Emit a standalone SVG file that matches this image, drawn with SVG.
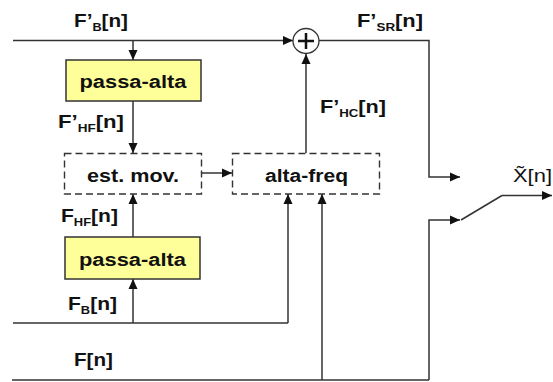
<svg xmlns="http://www.w3.org/2000/svg" width="553" height="382" viewBox="0 0 553 382">
<style>
.ln{fill:none;stroke:#333;stroke-width:1.5}
.ar{marker-end:url(#ah)}
.box{fill:#FFFF99;stroke:#333;stroke-width:1.5}
.dash{fill:#fff;stroke:#333;stroke-width:1.4;stroke-dasharray:7 4}
.t{font-family:"Liberation Sans",Arial,sans-serif;font-weight:bold;font-size:18px;fill:#111}
.c{text-anchor:middle}
.s{font-size:11px}
.r{font-weight:normal}
</style>
<defs>
<marker id="ah" markerUnits="userSpaceOnUse" markerWidth="10" markerHeight="10" viewBox="0 0 10 10" refX="10" refY="5" orient="auto">
<path d="M0,0.5 L10,5 L0,9.5 Z" fill="#111"/>
</marker>
</defs>
<rect width="553" height="382" fill="#fff"/>
<g id="connectors">
<path class="ln ar" d="M13,40.5 H293"/>
<path class="ln ar" d="M133,40.5 V60"/>
<path class="ln ar" d="M133,101 V153"/>
<path class="ln ar" d="M201,173 H232"/>
<path class="ln ar" d="M306,153 V54"/>
<path class="ln ar" d="M319,40.5 H429 V177 H460"/>
<path class="ln" d="M13,323 H288"/>
<path class="ln ar" d="M288,323 V194"/>
<path class="ln ar" d="M133,323 V279"/>
<path class="ln ar" d="M133,237 V194"/>
<path class="ln" d="M12,380 H429"/>
<path class="ln ar" d="M322,380 V194"/>
<path class="ln ar" d="M429,380 V220 H460"/>
<text class="t" x="74" y="27" textLength="54" lengthAdjust="spacingAndGlyphs">F’<tspan class="s" dy="4">B</tspan><tspan dy="-4">[n]</tspan></text>
<text class="t" x="58" y="128" textLength="66" lengthAdjust="spacingAndGlyphs">F’<tspan class="s" dy="4">HF</tspan><tspan dy="-4">[n]</tspan></text>
<text class="t" x="61" y="222" textLength="57" lengthAdjust="spacingAndGlyphs">F<tspan class="s" dy="4">HF</tspan><tspan dy="-4">[n]</tspan></text>
<text class="t" x="68" y="310" textLength="49" lengthAdjust="spacingAndGlyphs">F<tspan class="s" dy="4">B</tspan><tspan dy="-4">[n]</tspan></text>
<text class="t" x="74" y="366" textLength="39" lengthAdjust="spacingAndGlyphs">F[n]</text>
<text class="t" x="320" y="113" textLength="66" lengthAdjust="spacingAndGlyphs">F’<tspan class="s" dy="4">HC</tspan><tspan dy="-4">[n]</tspan></text>
<text class="t" x="357" y="27" textLength="66" lengthAdjust="spacingAndGlyphs">F’<tspan class="s" dy="4">SR</tspan><tspan dy="-4">[n]</tspan></text>
<text class="t r" x="513" y="182" textLength="39" lengthAdjust="spacingAndGlyphs">X̃[n]</text>
</g>
<g id="hp1">
<rect class="box" x="66" y="60" width="135" height="41"/>
<text class="t c" x="133" y="88" textLength="107" lengthAdjust="spacingAndGlyphs">passa-alta</text>
</g>
<g id="estmov">
<rect class="dash" x="64.5" y="153.5" width="137" height="40.5"/>
<text class="t c" x="133" y="182" textLength="92" lengthAdjust="spacingAndGlyphs">est. mov.</text>
</g>
<g id="altafreq">
<rect class="dash" x="232.5" y="153.5" width="147" height="40.5"/>
<text class="t c" x="306.5" y="182" textLength="83" lengthAdjust="spacingAndGlyphs">alta-freq</text>
</g>
<g id="hp2">
<rect class="box" x="65" y="237" width="135" height="42"/>
<text class="t c" x="132.5" y="265.5" textLength="107" lengthAdjust="spacingAndGlyphs">passa-alta</text>
</g>
<g id="sum">
<ellipse cx="306" cy="41" rx="13" ry="12.5" fill="#fff" stroke="#333" stroke-width="1.3"/>
<path d="M298,41 H314 M306,33 V49" stroke="#111" stroke-width="2.5"/>
</g>
<g id="switch">
<path class="ln" d="M461,220 L502,195.5"/>
<path class="ln ar" d="M502,195.5 H552"/>
</g>
</svg>
